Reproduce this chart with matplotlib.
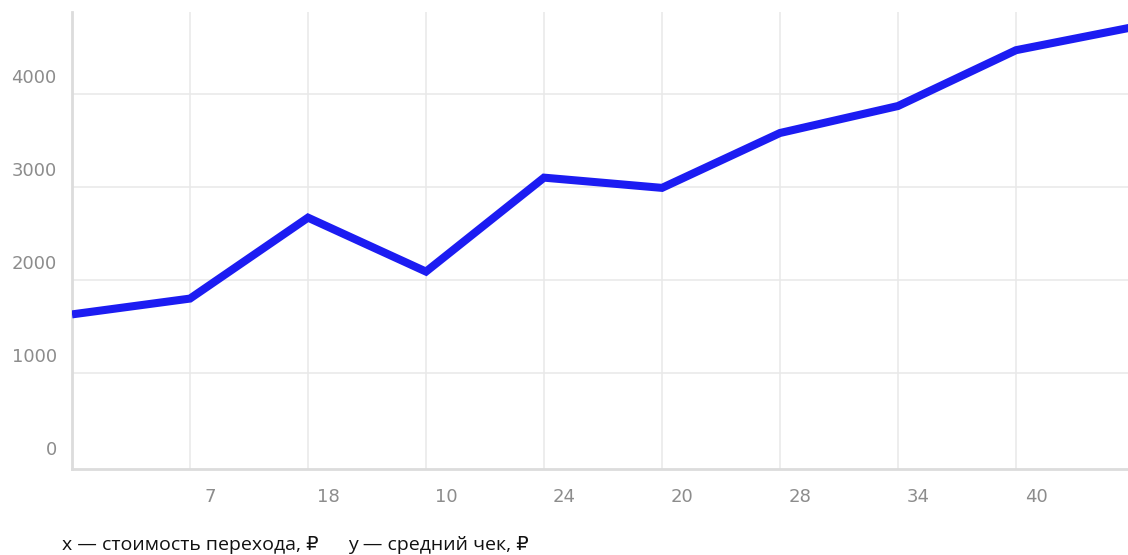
import matplotlib
matplotlib.use('Agg')
import matplotlib.pyplot as plt
import matplotlib.transforms as mtransforms

# данные графика
x_labels = ['', '7', '18', '10', '24', '20', '28', '34', '40', '']
avg_check = [1630, 1800, 2670, 2090, 3100, 2990, 3580, 3870, 4470, 4720]
y_ticks = [0, 1000, 2000, 3000, 4000]

W, H = 1128, 555
fig = plt.figure(figsize=(W / 100, H / 100), dpi=100)
ax = fig.add_axes([72 / W, 86 / H, (W - 72) / W, (469 - 12) / H])

xs = list(range(len(avg_check)))
ax.plot(xs, avg_check, color='#1c1cf2', linewidth=5.8, solid_joinstyle='miter',
        solid_capstyle='butt', zorder=3)

ax.set_xlim(0, (W - 72) / 118)
ax.set_ylim(-32, (472 - 12) / 0.09425)

ax.set_xticks(xs[1:-1])
ax.set_xticklabels(x_labels[1:-1])
ax.set_yticks(y_ticks)
ax.set_yticklabels([str(v) for v in y_ticks])

ax.grid(True, color='#e8e8e8', linewidth=1.1)
ax.set_axisbelow(True)
ax.yaxis.get_gridlines()[0].set_visible(False)  # линия 0 совпадает с осью
ax.tick_params(length=0, labelsize=13, labelcolor='#8c8c8c')
ax.tick_params(axis='x', pad=14)
ax.tick_params(axis='y', pad=11)

for s in ['top', 'right']:
    ax.spines[s].set_visible(False)
for s in ['left', 'bottom']:
    ax.spines[s].set_color('#dcdcdc')
    ax.spines[s].set_linewidth(2)

# подписи сдвинуты как в оригинале
dx = mtransforms.ScaledTranslation(20 / 100, 0, fig.dpi_scale_trans)
for lab in ax.get_xticklabels():
    lab.set_transform(lab.get_transform() + dx)
dy = mtransforms.ScaledTranslation(0, 18 / 100, fig.dpi_scale_trans)
for lab in ax.get_yticklabels():
    lab.set_transform(lab.get_transform() + dy)

fam = ['Open Sans', 'DejaVu Sans']
fig.text(62 / W, (H - 545) / H, 'x — стоимость перехода, ₽', fontsize=14,
         color='#111111', va='center', family=fam, weight='medium')
fig.text(348 / W, (H - 545) / H, 'y — средний чек, ₽', fontsize=14,
         color='#111111', va='center', family=fam, weight='medium')

fig.savefig('out.png', dpi=100, facecolor='white')
